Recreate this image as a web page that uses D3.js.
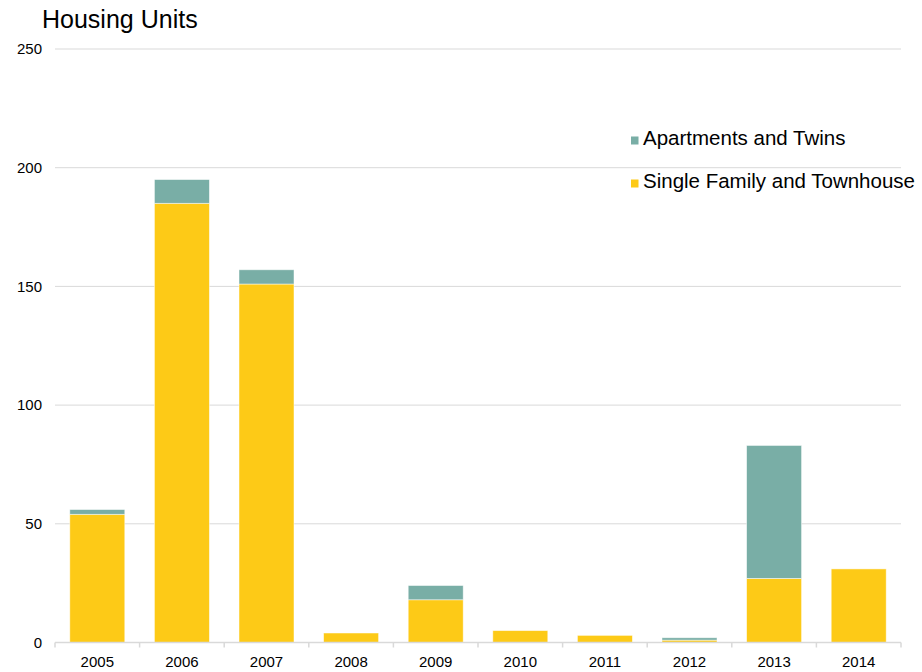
<!DOCTYPE html>
<html>
<head>
<meta charset="utf-8">
<script src="https://cdn.jsdelivr.net/npm/d3@7"></script>
<style>
  body { margin: 0; background: #fff; }
  text { font-family: "Liberation Sans", Arial, sans-serif; fill: #000; }
</style>
</head>
<body>
<svg width="922" height="672"></svg>
<script>
const years = ["2005", "2006", "2007", "2008", "2009", "2010", "2011", "2012", "2013", "2014"];
const singleFamily = [54, 185, 151, 4, 18, 5, 3, 1, 27, 31];
const apartments = [2, 10, 6, 0, 6, 0, 0, 1, 56, 0];
const yTicks = [0, 50, 100, 150, 200, 250];
const seriesNames = ["Single Family and Townhouse", "Apartments and Twins"];
const colors = ["#fdca17", "#79aea6"];

const svg = d3.select("svg");
const margin = { left: 55, right: 21, top: 49, bottom: 29.5 };
const width = +svg.attr("width"), height = +svg.attr("height");

const x = d3.scaleBand().domain(years)
  .range([margin.left, width - margin.right])
  .paddingInner(0.35).paddingOuter(0.175);
const y = d3.scaleLinear().domain([0, 250]).range([height - margin.bottom, margin.top]);

// gridlines
svg.append("g").selectAll("line").data(yTicks.filter(d => d > 0)).join("line")
  .attr("x1", margin.left).attr("x2", width - margin.right)
  .attr("y1", d => y(d)).attr("y2", d => y(d))
  .attr("stroke", "#d9d9d9").attr("stroke-width", 1);

// y labels
svg.append("g").selectAll("text").data(yTicks).join("text")
  .attr("x", 42).attr("y", d => y(d)).attr("dy", "0.35em")
  .attr("text-anchor", "end").style("font-size", "15px").text(d => d);

// stacked bars
const table = years.map((yr, i) => ({ year: yr, single: singleFamily[i], apt: apartments[i] }));
const stack = d3.stack().keys(["single", "apt"])(table);

svg.append("g").selectAll("g").data(stack).join("g")
  .attr("fill", (d, i) => colors[i])
  .selectAll("rect").data(d => d.filter(p => p[1] > p[0])).join("rect")
  .attr("x", d => x(d.data.year))
  .attr("width", x.bandwidth())
  .attr("y", d => y(d[1]))
  .attr("height", d => y(d[0]) - y(d[1]))
  .attr("stroke", "#fff").attr("stroke-opacity", 0.6).attr("stroke-width", 0.8);

// x axis
const xAxis = svg.append("g").attr("transform", `translate(0,${y(0)})`);
xAxis.append("line").attr("x1", margin.left).attr("x2", width - margin.right)
  .attr("stroke", "#d9d9d9").attr("stroke-width", 1.5);
const edges = years.map(yr => x(yr) - x.step() * x.paddingInner() / 2);
edges.push(width - margin.right);
edges[0] = margin.left;
xAxis.selectAll(".tk").data(edges).join("line").attr("class", "tk")
  .attr("x1", d => d).attr("x2", d => d).attr("y1", 0).attr("y2", 5)
  .attr("stroke", "#d9d9d9").attr("stroke-width", 1.5);
xAxis.selectAll("text").data(years).join("text")
  .attr("x", d => x(d) + x.bandwidth() / 2).attr("y", 24)
  .attr("text-anchor", "middle").style("font-size", "15px").text(d => d);

// title
svg.append("text").attr("x", 42).attr("y", 28).style("font-size", "25px").text("Housing Units");

// legend
const legend = svg.append("g");
const legendItems = [
  { name: seriesNames[1], color: colors[1], y: 145 },
  { name: seriesNames[0], color: colors[0], y: 188 }
];
legendItems.forEach(item => {
  legend.append("rect").attr("x", 631).attr("y", item.y - 8.5).attr("width", 7.5).attr("height", 8).attr("fill", item.color);
  legend.append("text").attr("x", 643).attr("y", item.y)
    .style("font-size", "20.5px").text(item.name);
});
</script>
</body>
</html>
